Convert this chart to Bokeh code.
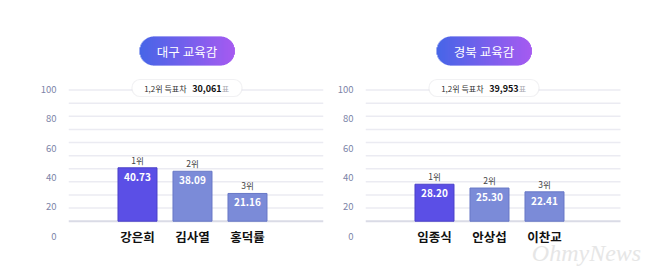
import numpy as np
from bokeh.plotting import figure
from bokeh.layouts import row
from bokeh.models import FixedTicker, BoxAnnotation
from bokeh.core.properties import value
from bokeh.embed import file_html
from bokeh.resources import INLINE

# ---------------- data ----------------
regions = ["대구 교육감", "경북 교육감"]
candidates_daegu = ["강은희", "김사열", "홍덕률"]
shares_daegu = [40.73, 38.09, 21.16]
candidates_gyeongbuk = ["임종식", "안상섭", "이찬교"]
shares_gyeongbuk = [28.20, 25.30, 22.41]
ranks = ["1위", "2위", "3위"]
gap_prefix = "1,2위 득표차"
gap_votes = ["30,061", "39,953"]
gap_suffix = "표"
tick_labels = ["0", "20", "40", "60", "80", "100"]
grid_values = list(range(0, 101, 10))
watermark = "OhmyNews"

# ---------------- layout constants ----------------
FONT = "Noto Sans CJK KR"
H = 277
PX_PER_CAT = 55.0
PX_PER_UNIT = 1.311
BASE_PX = 220.7
X_START = -1.2545
Y_TOP = BASE_PX / PX_PER_UNIT
Y_BOTTOM = Y_TOP - H / PX_PER_UNIT


def px2x(px):
    return X_START + px / PX_PER_CAT


def px2y(py):
    return Y_TOP - py / PX_PER_UNIT


def lerp_color(c1, c2, t):
    a = [int(c1[i:i + 2], 16) for i in (1, 3, 5)]
    b = [int(c2[i:i + 2], 16) for i in (1, 3, 5)]
    return "#%02x%02x%02x" % tuple(int(round(a[k] + (b[k] - a[k]) * t)) for k in range(3))


def est_width(s, fs, bold=False):
    w = 0.0
    for ch in s:
        if ch.isdigit():
            w += 0.58 if bold else 0.55
        elif ch in ",.":
            w += 0.28
        elif ch == " ":
            w += 0.25
        else:
            w += 1.0
    return w * fs


def make_panel(title, names, vals, votes, border_left, frame_width, border_right, show_mark=False):
    x_end = X_START + frame_width / PX_PER_CAT
    p = figure(frame_width=frame_width, frame_height=H,
               x_range=(X_START, x_end), y_range=(Y_BOTTOM, Y_TOP),
               output_backend="svg", toolbar_location=None,
               x_axis_location=None, min_border_left=border_left,
               min_border_right=border_right, min_border_top=0, min_border_bottom=0)
    p.outline_line_color = None
    p.xgrid.visible = False
    p.ygrid.visible = False
    p.background_fill_color = "white"
    p.border_fill_color = "white"

    # y axis (decorative labels as in the original)
    pos = [round(v, 2) for v in np.linspace(px2y(235.7), px2y(89.0), len(tick_labels))]
    ax = p.yaxis[0]
    ax.ticker = FixedTicker(ticks=pos)
    ax.major_label_overrides = {v: t for v, t in zip(pos, tick_labels)}
    ax.axis_line_color = None
    ax.major_tick_line_color = None
    ax.minor_tick_line_color = None
    ax.major_label_text_font = FONT
    ax.major_label_text_font_size = "9.5px"
    ax.major_label_text_color = "#7c84a8"
    ax.major_label_standoff = 6

    # grid lines
    grid_end = X_START + 255 / PX_PER_CAT
    for g in grid_values:
        p.segment(x0=[X_START], y0=[g], x1=[grid_end], y1=[g],
                  line_color="#dadbe6" if g == 0 else "#ebebf2",
                  line_width=2 if g == 0 else 1.5)

    xs = list(range(len(vals)))
    fills = ["#5b4fe6"] + ["#7b8bd8"] * (len(vals) - 1)
    lines = ["#4a40c8"] + ["#6878c6"] * (len(vals) - 1)
    p.vbar(x=xs, top=vals, bottom=0, width=39 / PX_PER_CAT,
           fill_color=fills, line_color=lines, line_width=1)

    p.text(x=xs, y=vals, text=["%.2f" % v for v in vals], text_font=value(FONT),
           text_font_size="10px", text_font_style="bold", text_color="white",
           text_align="center", text_baseline="middle", y_offset=9)
    p.text(x=xs, y=vals, text=ranks, text_font=value(FONT),
           text_font_size="8.5px", text_color="#444444",
           text_align="center", text_baseline="middle", y_offset=-8)
    p.text(x=xs, y=[px2y(236)] * len(xs), text=names, text_font=value(FONT),
           text_font_size="12.5px", text_font_style="bold", text_color="#111111",
           text_align="center", text_baseline="middle")

    # title pill with gradient
    cx = 0.9
    cpx = (cx - X_START) * PX_PER_CAT
    pw, ph, pcy = 95.0, 29.0, 50.5
    r = ph / 2
    n = int(pw)
    lefts, rights, tops, bottoms, cols = [], [], [], [], []
    for i in range(n):
        c = -pw / 2 + i + 0.5
        d = abs(c) - (pw / 2 - r)
        hh = r if d <= 0 else (np.sqrt(max(r * r - d * d, 0.0)))
        lefts.append(px2x(cpx + c - 0.5))
        rights.append(px2x(cpx + c + 0.9))
        tops.append(px2y(pcy - hh))
        bottoms.append(px2y(pcy + hh))
        cols.append(lerp_color("#3d5de6", "#a052f0", i / (n - 1)))
    p.quad(left=lefts, right=rights, top=tops, bottom=bottoms,
           fill_color=cols, line_color=None)
    p.text(x=[cx], y=[px2y(pcy)], text=[title], text_font=value(FONT),
           text_font_size="12.5px", text_color="white",
           text_align="center", text_baseline="middle")

    # subtitle pill
    sw, sh, scy = 110.0, 17.0, 87.5
    box = BoxAnnotation(left=px2x(cpx - sw / 2), right=px2x(cpx + sw / 2),
                        top=px2y(scy - sh / 2), bottom=px2y(scy + sh / 2),
                        fill_color="white", fill_alpha=1.0,
                        line_color="#cfd0d6", line_width=1.2,
                        border_radius=8)
    p.add_layout(box)
    fs = 8.0
    w1 = est_width(gap_prefix, fs)
    w2 = est_width(votes, 9.0, bold=True)
    w3 = est_width(gap_suffix, fs)
    total = w1 + 3 + w2 + 1 + w3
    start = -total / 2
    r1 = p.text(x=[cx], y=[px2y(scy)], text=[gap_prefix], text_font=value(FONT),
                text_font_size="8px", text_color="#333333", text_align="left",
                text_baseline="middle", x_offset=start)
    r2 = p.text(x=[cx], y=[px2y(scy)], text=[votes], text_font=value(FONT),
                text_font_size="9px", text_font_style="bold", text_color="#111111",
                text_align="left", text_baseline="middle", x_offset=start + w1 + 3)
    r3 = p.text(x=[cx], y=[px2y(scy)], text=[gap_suffix], text_font=value(FONT),
                text_font_size="8px", text_color="#a8a8b0", text_align="left",
                text_baseline="middle", x_offset=start + w1 + 3 + w2 + 1)
    for rr in (r1, r2, r3):
        rr.level = "overlay"

    if show_mark:
        p.text(x=[px2x(586 - 365)], y=[px2y(252)], text=[watermark],
               text_font=value("Liberation Serif"), text_font_style="italic",
               text_font_size="24px", text_color="#e6e6e6",
               text_align="center", text_baseline="middle")
    return p


left = make_panel(regions[0], candidates_daegu, shares_daegu, gap_votes[0], 68, 255, 6)
right = make_panel(regions[1], candidates_gyeongbuk, shares_gyeongbuk, gap_votes[1], 36, 293, 0,
                   show_mark=True)

layout = row(left, right, spacing=0)
open("out.html", "w").write(file_html(layout, INLINE))
